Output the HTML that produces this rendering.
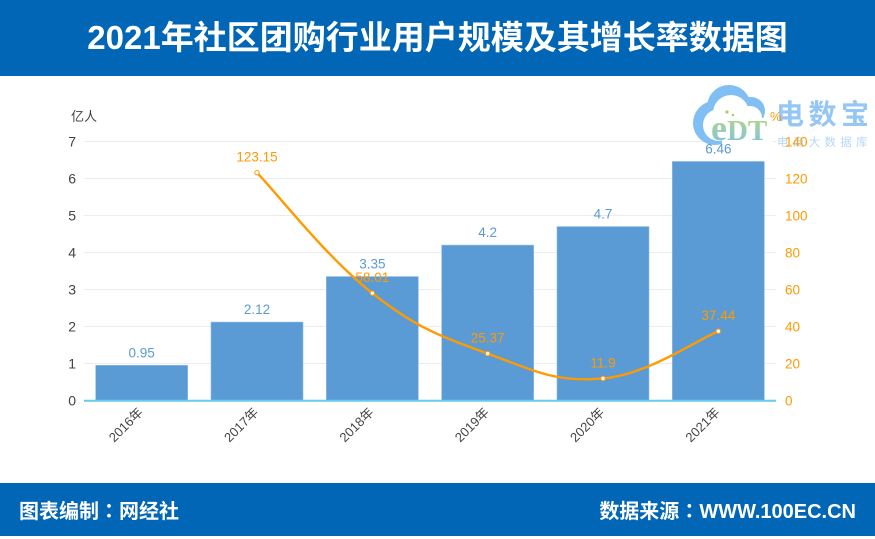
<!DOCTYPE html>
<html lang="zh">
<head>
<meta charset="utf-8">
<title>2021年社区团购行业用户规模及其增长率数据图</title>
<style>
html,body{margin:0;padding:0;background:#fff}
body{width:875px;height:536px;position:relative;overflow:hidden;font-family:"Liberation Sans","Noto Sans CJK SC",sans-serif}
.band{position:absolute;left:0;width:875px;background:#0066b5;color:#fff;font-weight:bold}
#header{top:0;height:76px;line-height:76px;text-align:center;font-size:33px}
#footer{top:483px;height:53px;line-height:54px;font-size:20px}
#footer>span{position:absolute;top:0;white-space:nowrap}
.colon{font-family:"Noto Sans CJK TC",sans-serif;font-style:normal}
svg{position:absolute;left:0;top:0}
</style>
</head>
<body>
<div id="header" class="band">2021年社区团购行业用户规模及其增长率数据图</div>
<svg id="chart" width="875" height="536" viewBox="0 0 875 536"></svg>
<div id="footer" class="band">
  <span style="left:19px">图表编制<i class="colon" lang="zh-TW">：</i>网经社</span>
  <span style="right:19px">数据来源<i class="colon" lang="zh-TW">：</i>WWW.100EC.CN</span>
</div>
<script>
const categories = ['2016年','2017年','2018年','2019年','2020年','2021年'];
const userValues = [0.95,2.12,3.35,4.2,4.7,6.46];
const growthValues = [null,123.15,58.01,25.37,11.9,37.44];
const leftTicks = [0,1,2,3,4,5,6,7];
const rightTicks = [0,20,40,60,80,100,120,140];

const NS = 'http://www.w3.org/2000/svg';
const svg = document.getElementById('chart');
const FONT = '"Liberation Sans","Noto Sans CJK SC",sans-serif';
const plot = {left:84, right:776, top:141.5, bottom:400.5};
const yLeft = v => plot.bottom - (v - 0) / 7 * (plot.bottom - plot.top);
const yRight = v => plot.bottom - (v - 0) / 140 * (plot.bottom - plot.top);
const band = (plot.right - plot.left) / categories.length;
const xCat = i => plot.left + band * (i + 0.5);
const BAR_W = 92;

function make(tag, attrs, parent, text) {
  const el = document.createElementNS(NS, tag);
  for (const k in attrs) el.setAttribute(k, attrs[k]);
  if (text !== undefined) el.textContent = text;
  (parent || svg).appendChild(el);
  return el;
}
function label(x, y, text, size, fill, anchor, parent) {
  const t = make('text', {x:x, y:y, fill:fill, 'font-size':size, 'font-family':FONT, 'text-anchor':anchor}, parent, text);
  return t;
}

/* gridlines and axis ticks */
leftTicks.forEach(v => {
  if (v === 0) return;
  const g = make('line', {x1:plot.left, x2:plot.right, y1:yLeft(v), y2:yLeft(v), stroke:'#ececec', 'stroke-width':1});
  
  
});
leftTicks.forEach(v => {
  const t = label(76, yLeft(v) + 5, String(v), 14, '#444444', 'end');
  
  
});
const leftUnit = label(71, 121, '亿人', 13, '#444444', 'start');



/* bars */
userValues.forEach((v, i) => {
  const r = make('rect', {x:xCat(i) - BAR_W / 2, y:yLeft(v), width:BAR_W, height:plot.bottom - yLeft(v), fill:'#5b9bd5', stroke:'#8fbde6', 'stroke-width':0.6});
  
  
});

/* x axis */
const axis = make('line', {x1:plot.left, x2:plot.right, y1:plot.bottom + 0.3, y2:plot.bottom + 0.3, stroke:'#66ccee', 'stroke-width':2});


categories.forEach((c, i) => {
  const x = xCat(i) - 1, y = 410;
  const t = label(x, y, c, 13, '#444444', 'end');
  t.setAttribute('transform', 'rotate(-45 ' + x + ' ' + y + ')');
  t.setAttribute('dominant-baseline', 'central');
  
  
});

/* logo watermark */
const defs = make('defs', {});
const grad = make('linearGradient', {id:'edtGrad', x1:0, y1:0, x2:0, y2:1}, defs);
make('stop', {offset:'0%', 'stop-color':'#c4dc6a'}, grad);
make('stop', {offset:'100%', 'stop-color':'#78c0ee'}, grad);
const logo = make('g', {});


[[729,107,22],[715,123,22],[751,111,14]].forEach(c => make('circle', {cx:c[0], cy:c[1], r:c[2], fill:'#80bef4'}, logo));
[[731,113,18],[719,125,16],[750,118,12]].forEach(c => make('circle', {cx:c[0], cy:c[1], r:c[2], fill:'#ffffff'}, logo));
make('rect', {x:722, y:118, width:50, height:30, fill:'#ffffff'}, logo);
make('circle', {cx:727, cy:112, r:1.6, fill:'#a8d05c'}, logo);
make('circle', {cx:733, cy:115, r:1.3, fill:'#a8d05c'}, logo);
const eDT = make('text', {x:711, y:140, 'font-size':29, 'font-weight':'bold', 'font-family':'"Liberation Serif",serif', fill:'url(#edtGrad)'}, logo);
const eSpan = make('tspan', {'font-size':36}, eDT, 'e');
const dtSpan = make('tspan', {}, eDT, 'DT');


const brand = make('text', {x:776, y:124, 'font-size':28, 'font-weight':'bold', 'font-family':FONT, fill:'#94c6f6', 'letter-spacing':4.5}, logo, '电数宝');


const sub = make('text', {x:777, y:146, 'font-size':11.5, 'font-family':FONT, fill:'#b5d8f8', 'letter-spacing':4.3}, logo, '电商大数据库');



/* right axis drawn over the logo */
rightTicks.forEach(v => {
  const t = label(785, yRight(v) + 5, String(v), 13.5, '#ff9a00', 'start');
  
  
});
const rightUnit = label(770, 121, '%', 13, '#ff9a00', 'start');



/* smooth growth line */
const pts = [];
growthValues.forEach((v, i) => { if (v !== null) pts.push([xCat(i), yRight(v)]); });
let d = 'M' + pts[0][0] + ' ' + pts[0][1];
for (let i = 0; i < pts.length - 1; i++) {
  const p0 = pts[Math.max(i - 1, 0)], p1 = pts[i], p2 = pts[i + 1], p3 = pts[Math.min(i + 2, pts.length - 1)];
  const s = 0.2;
  d += ' C' + (p1[0] + (p2[0] - p0[0]) * s) + ' ' + (p1[1] + (p2[1] - p0[1]) * s) + ' ' +
       (p2[0] - (p3[0] - p1[0]) * s) + ' ' + (p2[1] - (p3[1] - p1[1]) * s) + ' ' + p2[0] + ' ' + p2[1];
}
const line = make('path', {d:d, fill:'none', stroke:'#ff9a00', 'stroke-width':2.4});


pts.forEach(p => {
  const c = make('circle', {cx:p[0], cy:p[1], r:2.2, fill:'#ffffff', stroke:'#ff9a00', 'stroke-width':1});
  
  
});

/* data labels */
userValues.forEach((v, i) => {
  const t = label(xCat(i), yLeft(v) - 8, String(v), 13.5, '#5b9bd5', 'middle');
  
  
});
growthValues.forEach((v, i) => {
  if (v === null) return;
  const t = label(xCat(i), yRight(v) - 11, String(v), 13.5, '#ff9a00', 'middle');
  
  
});
</script>
</body>
</html>
